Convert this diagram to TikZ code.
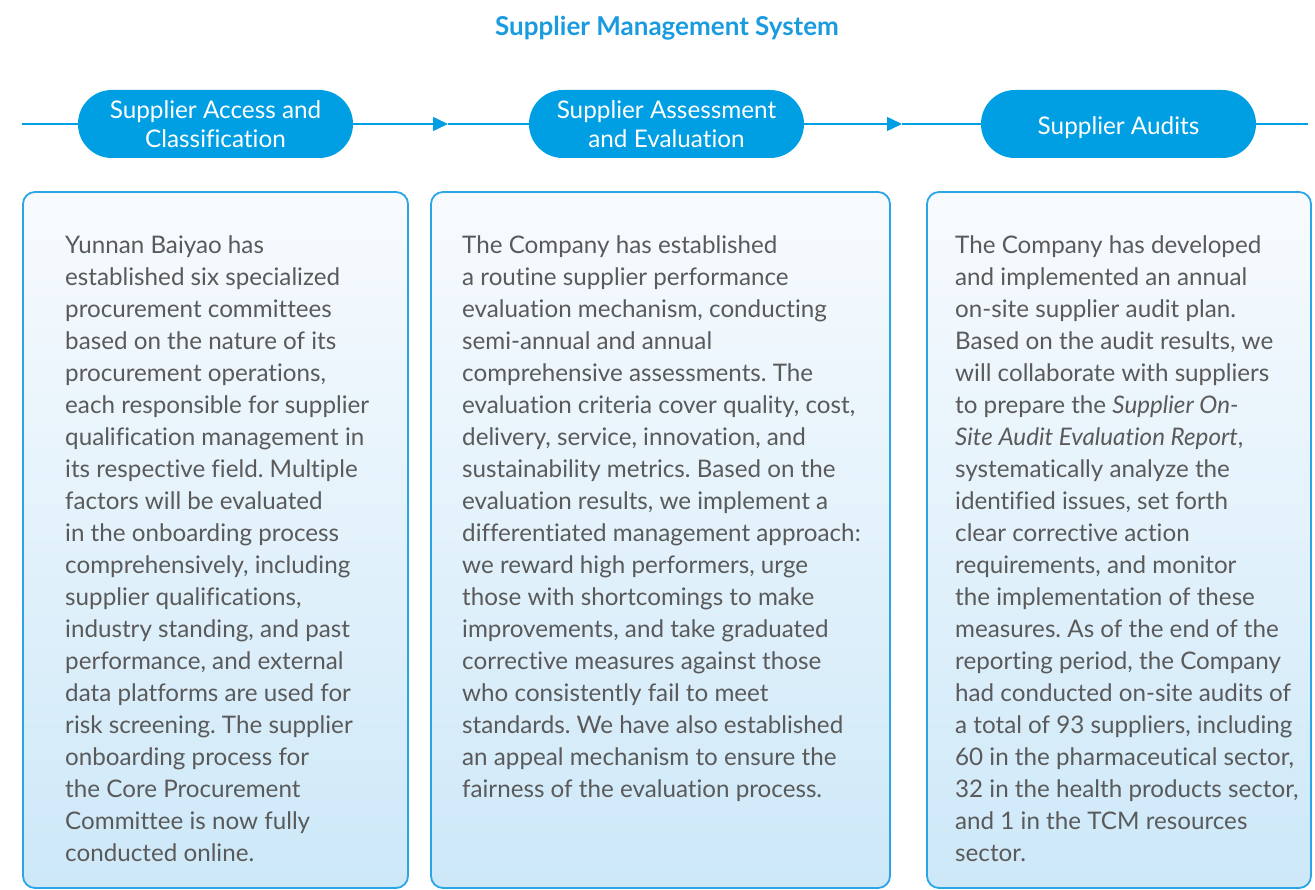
\documentclass[tikz,border=0pt]{standalone}
\usepackage{fontspec}
\setmainfont{Lato}[Ligatures=NoCommon]
\frenchspacing
\usetikzlibrary{arrows.meta}
\definecolor{brand}{HTML}{009FE3}
\definecolor{titleblue}{HTML}{1A9BE0}
\definecolor{edge}{HTML}{2AA5E6}
\definecolor{bodytext}{HTML}{5A5A5A}
\definecolor{boxtop}{HTML}{F8FBFE}
\definecolor{boxbot}{HTML}{CDE8F8}
\tikzset{
  pill/.style={fill=brand, text=white, minimum width=275pt, minimum height=68pt, rounded corners=33.9pt, align=center, inner sep=0pt, font=\fontsize{24.3}{29.5}\selectfont},
  panel/.style={draw=edge, line width=1.8pt, rounded corners=12pt, top color=boxtop, bottom color=boxbot},
  flow/.style={draw=brand, line width=1.5pt},
  flowarrow/.style={flow, -{Triangle[length=15pt,width=14pt]}},
  bodyline/.style={anchor=base west, inner sep=0pt, text=bodytext, font=\fontsize{24.2}{32}\selectfont},
}
\begin{document}
\begin{tikzpicture}[x=1pt,y=-1pt]
\path[use as bounding box] (0,0) rectangle (1315,890);
\node[anchor=base, inner sep=0pt, text=titleblue, font=\bfseries\fontsize{26}{28}\selectfont] (title) at (667,35.5) {Supplier Management System};
% pills
\node[pill] (p1) at (215.5,124) {Supplier Access and\\Classification};
\node[pill] (p2) at (666.5,124) {Supplier Assessment\\and Evaluation};
\node[pill, align=none, text height=25pt, text depth=4.5pt] (p3) at (1118.5,124) {Supplier Audits};
\coordinate (l0) at (22,124);
\coordinate (l9) at (1308,124);
\coordinate (a1) at (448,124);
\coordinate (a2) at (902,124);
\draw[flow] (l0) -- (p1.west);
\draw[flowarrow] (p1.east) -- (a1);
\draw[flow] (a1) -- (p2.west);
\draw[flowarrow] (p2.east) -- (a2);
\draw[flow] (a2) -- (p3.west);
\draw[flow] (p3.east) -- (l9);
% panels
\path[panel] (23,192) rectangle (408,888);
\path[panel] (431,192) rectangle (890,888);
\path[panel] (927,192) rectangle (1311,888);
\foreach \l [count=\i] in {
{Yunnan Baiyao has},
{established six specialized},
{procurement committees},
{based on the nature of its},
{procurement operations,},
{each responsible for supplier},
{qualification management in},
{its respective field. Multiple},
{factors will be evaluated},
{in the onboarding process},
{comprehensively, including},
{supplier qualifications,},
{industry standing, and past},
{performance, and external},
{data platforms are used for},
{risk screening. The supplier},
{onboarding process for},
{the Core Procurement},
{Committee is now fully},
{conducted online.}}
  \node[bodyline] (ta\i) at (65,{253.5+32*(\i-1)}) {\l};
\foreach \l [count=\i] in {
{The Company has established},
{a routine supplier performance},
{evaluation mechanism, conducting},
{semi-annual and annual},
{comprehensive assessments. The},
{evaluation criteria cover quality, cost,},
{delivery, service, innovation, and},
{sustainability metrics. Based on the},
{evaluation results, we implement a},
{differentiated management approach:},
{we reward high performers, urge},
{those with shortcomings to make},
{improvements, and take graduated},
{corrective measures against those},
{who consistently fail to meet},
{standards. We have also established},
{an appeal mechanism to ensure the},
{fairness of the evaluation process.}}
  \node[bodyline] (tb\i) at (462,{253.5+32*(\i-1)}) {\l};
\foreach \l [count=\i] in {
{The Company has developed},
{and implemented an annual},
{on-site supplier audit plan.},
{Based on the audit results, we},
{will collaborate with suppliers},
{to prepare the \textit{Supplier On-}},
{\textit{Site Audit Evaluation Report},},
{systematically analyze the},
{identified issues, set forth},
{clear corrective action},
{requirements, and monitor},
{the implementation of these},
{measures. As of the end of the},
{reporting period, the Company},
{had conducted on-site audits of},
{a total of 93 suppliers, including},
{60 in the pharmaceutical sector,},
{32 in the health products sector,},
{and 1 in the TCM resources},
{sector.}}
  \node[bodyline] (tc\i) at (955,{253.5+32*(\i-1)}) {\l};
\end{tikzpicture}
\end{document}
